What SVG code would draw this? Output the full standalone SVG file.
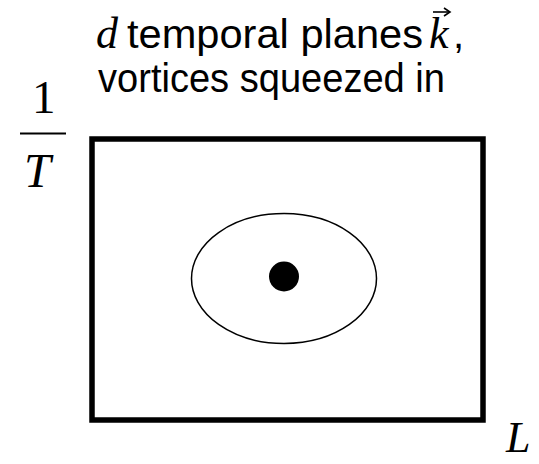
<svg xmlns="http://www.w3.org/2000/svg" width="539" height="464" viewBox="0 0 539 464">
<style>
.sans{font-family:"Liberation Sans",Arial,sans-serif;font-size:40px;fill:#000}
.math{font-family:"Liberation Serif","Times New Roman",serif;font-style:italic;font-size:44px;fill:#000}
.big{font-family:"Liberation Serif","Times New Roman",serif;font-style:italic;font-size:48px;fill:#000}
.num{font-family:"Liberation Serif","Times New Roman",serif;font-size:47px;fill:#000}
</style>
<rect width="539" height="464" fill="#fff"/>
<g id="label">
<text class="math" x="96" y="48">d</text>
<text class="sans" x="127" y="48" textLength="296" lengthAdjust="spacingAndGlyphs">temporal planes</text>
<text class="math" x="429" y="48">k</text>
<line x1="433" y1="12" x2="449" y2="12" stroke="#000" stroke-width="1.6"/>
<path d="M444,8 L450,12 L444,16" fill="none" stroke="#000" stroke-width="1.6"/>
<text class="sans" x="453" y="48">,</text>
<text class="sans" x="98" y="92" textLength="347" lengthAdjust="spacingAndGlyphs">vortices squeezed in</text>
</g>
<g id="yaxis">
<text class="num" x="32" y="113">1</text>
<line x1="20" y1="133.5" x2="66" y2="133.5" stroke="#000" stroke-width="1.8"/>
<text class="big" x="24" y="187">T</text>
</g>
<g id="xaxis">
<text class="math" x="506" y="452">L</text>
</g>
<g id="box">
<rect x="92" y="139" width="391" height="281" fill="none" stroke="#000" stroke-width="5.5"/>
</g>
<g id="region">
<ellipse cx="284" cy="278.5" rx="92.5" ry="65" fill="none" stroke="#000" stroke-width="1.5"/>
</g>
<g id="vortex">
<circle cx="284" cy="276.5" r="15" fill="#000"/>
</g>
</svg>
